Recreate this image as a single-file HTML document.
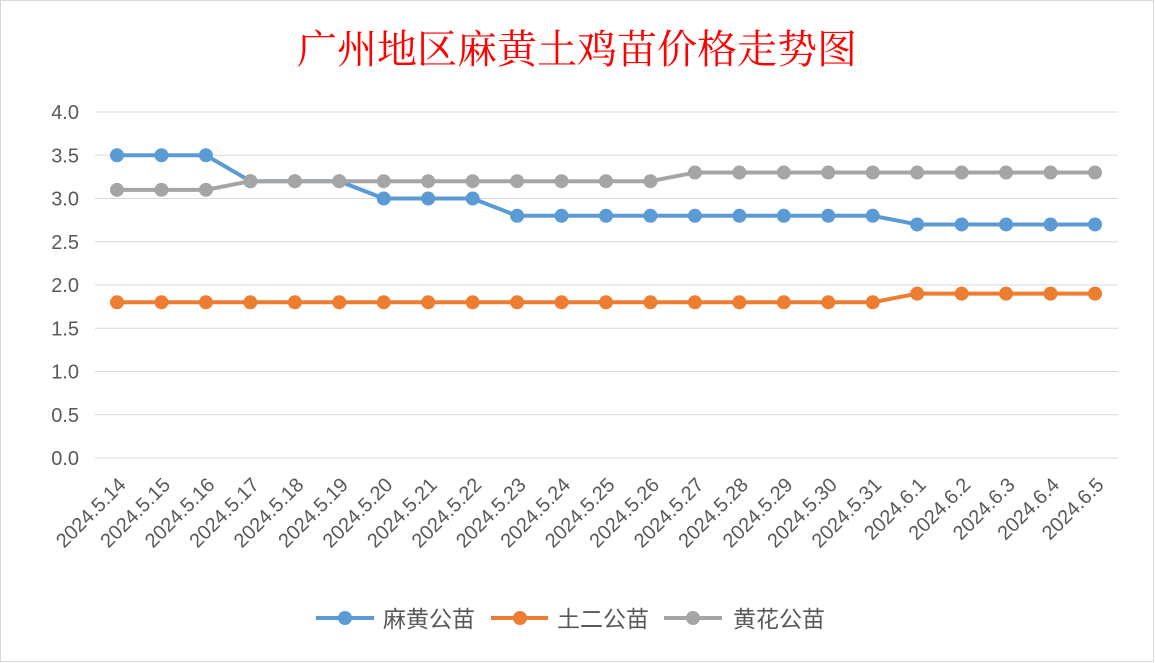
<!DOCTYPE html>
<html><head><meta charset="utf-8"><style>
body{margin:0;background:#fff;}
svg{display:block;font-family:"Liberation Sans","Noto Sans CJK SC",sans-serif;}
</style></head><body>
<svg id="chart" width="1155" height="663">
<rect x="0.5" y="0.5" width="1153" height="661" fill="#fff" stroke="#d9d9d9"/>
<text x="577" y="63" text-anchor="middle" font-size="40" fill="#ff0000" font-family="'Liberation Serif','Noto Serif CJK SC',serif">广州地区麻黄土鸡苗价格走势图</text>
<g id="grid"></g><g id="xlabels"></g><g id="series"></g>
<g>
<g><line x1="316" y1="618" x2="374" y2="618" stroke="#5b9bd5" stroke-width="4"/><circle cx="345" cy="618" r="7" fill="#5b9bd5"/><text x="383" y="627" font-size="23" fill="#595959">麻黄公苗</text></g>
<g><line x1="491" y1="618" x2="548" y2="618" stroke="#ed7d31" stroke-width="4"/><circle cx="520" cy="618" r="7" fill="#ed7d31"/><text x="557" y="627" font-size="23" fill="#595959">土二公苗</text></g>
<g><line x1="664" y1="618" x2="722" y2="618" stroke="#a5a5a5" stroke-width="4"/><circle cx="693" cy="618" r="7" fill="#a5a5a5"/><text x="733" y="627" font-size="23" fill="#595959">黄花公苗</text></g>
</g>
</svg>
<script>
const categories=["2024.5.14","2024.5.15","2024.5.16","2024.5.17","2024.5.18","2024.5.19","2024.5.20","2024.5.21","2024.5.22","2024.5.23","2024.5.24","2024.5.25","2024.5.26","2024.5.27","2024.5.28","2024.5.29","2024.5.30","2024.5.31","2024.6.1","2024.6.2","2024.6.3","2024.6.4","2024.6.5"];
const mahuang=[3.5,3.5,3.5,3.2,3.2,3.2,3.0,3.0,3.0,2.8,2.8,2.8,2.8,2.8,2.8,2.8,2.8,2.8,2.7,2.7,2.7,2.7,2.7];
const tuer=[1.8,1.8,1.8,1.8,1.8,1.8,1.8,1.8,1.8,1.8,1.8,1.8,1.8,1.8,1.8,1.8,1.8,1.8,1.9,1.9,1.9,1.9,1.9];
const huanghua=[3.1,3.1,3.1,3.2,3.2,3.2,3.2,3.2,3.2,3.2,3.2,3.2,3.2,3.3,3.3,3.3,3.3,3.3,3.3,3.3,3.3,3.3,3.3];
const yTicks=["0.0","0.5","1.0","1.5","2.0","2.5","3.0","3.5","4.0"];
const NS="http://www.w3.org/2000/svg";
const x=i=>117+i*(1095-117)/(categories.length-1);
const y=v=>458-v*(458-112)/4;
function mk(t,a,p){const e=document.createElementNS(NS,t);for(const k in a)e.setAttribute(k,a[k]);p.appendChild(e);return e;}
const grid=document.getElementById('grid');
yTicks.forEach(t=>{const v=parseFloat(t);
const l=mk('line',{x1:95,x2:1118,y1:y(v),y2:y(v),stroke:'#d9d9d9','stroke-width':1},grid);


const tx=mk('text',{x:79,y:y(v)+7,'text-anchor':'end','font-size':20,fill:'#595959'},grid);tx.textContent=t;

});
const xl=document.getElementById('xlabels');
categories.forEach((c,i)=>{const t=mk('text',{x:x(i)+10,y:486,'text-anchor':'end','font-size':20,fill:'#595959',transform:`rotate(-45 ${x(i)+10} 486)`},xl);t.textContent=c;

});
const sg=document.getElementById('series');
[[mahuang,'#5b9bd5','mahuang'],[tuer,'#ed7d31','tuer'],[huanghua,'#a5a5a5','huanghua']].forEach(([d,c,n])=>{
const g=mk('g',{},sg);


const pl=mk('polyline',{points:d.map((v,i)=>x(i)+','+y(v)).join(' '),fill:'none',stroke:c,'stroke-width':4,'stroke-linejoin':'round'},g);


d.forEach((v,i)=>{const p=mk('circle',{cx:x(i),cy:y(v),r:7,fill:c},g);

});});
</script>
</body></html>
